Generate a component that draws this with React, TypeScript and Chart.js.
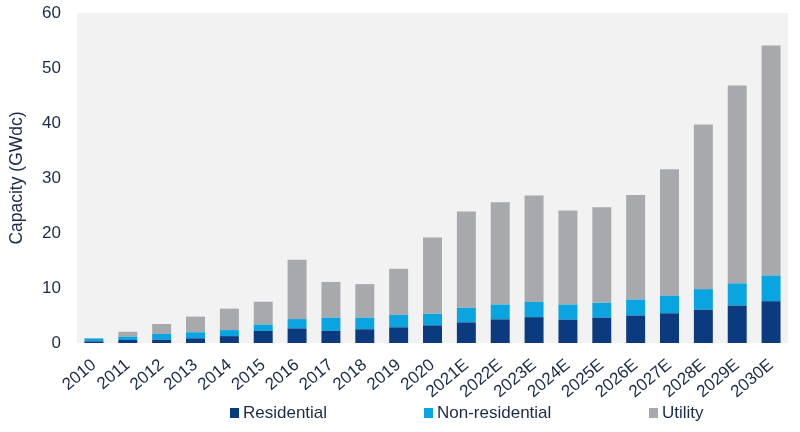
import React, { useEffect, useRef } from "react";
import { Chart, registerables } from "chart.js";

Chart.register(...registerables);

const categories = [
  "2010", "2011", "2012", "2013", "2014", "2015", "2016", "2017", "2018", "2019", "2020",
  "2021E", "2022E", "2023E", "2024E", "2025E", "2026E", "2027E", "2028E", "2029E", "2030E",
];
const residential = [0.3, 0.55, 0.6, 0.85, 1.25, 2.2, 2.65, 2.2, 2.5, 2.85, 3.2, 3.75, 4.3, 4.7, 4.25, 4.6, 5.0, 5.4, 6.05, 6.8, 7.6];
const nonResidential = [0.5, 0.6, 1.05, 1.1, 1.1, 1.15, 1.7, 2.4, 2.1, 2.25, 2.1, 2.65, 2.7, 2.75, 2.75, 2.7, 2.9, 3.2, 3.75, 4.05, 4.65];
const utility = [0.1, 0.9, 1.8, 2.85, 3.9, 4.15, 10.8, 6.5, 6.1, 8.4, 13.9, 17.5, 18.6, 19.35, 17.1, 17.4, 19.0, 23.0, 29.95, 35.95, 41.85];
const yTicks = [0, 10, 20, 30, 40, 50, 60];
const seriesNames = ["Residential", "Non-residential", "Utility"];
const seriesColors = ["#0c3a7e", "#0aa4e0", "#a7a9ac"];
const axisTitle = "Capacity (GWdc)";

const TEXT = "#1c2a4a";
const FONT = "'Liberation Sans', Arial, sans-serif";

const plotBg = {
  id: "plotBg",
  beforeDraw(chart: any) {
    const { ctx, chartArea: a } = chart;
    ctx.save();
    ctx.fillStyle = "#f2f2f2";
    ctx.fillRect(a.left, a.top, a.right - a.left, a.bottom - a.top);
    ctx.restore();
  },
};

const legendLeft = [230, 424, 649];

export default function App() {
  const ref = useRef<HTMLCanvasElement>(null);

  useEffect(() => {
    if (!ref.current) return;
    Chart.defaults.font.family = FONT;
    const values = [residential, nonResidential, utility];
    const chart = new Chart(ref.current, {
      type: "bar",
      data: {
        labels: categories,
        datasets: seriesNames.map((name, i) => ({
          label: name,
          data: values[i],
          backgroundColor: seriesColors[i],
          borderWidth: 0,
          categoryPercentage: 1,
          barPercentage: 0.56,
        })),
      },
      options: {
        animation: false,
        responsive: false,
        devicePixelRatio: 1,
        layout: { padding: { top: 13, right: 12, left: 0, bottom: 0 } },
        plugins: {
          legend: { display: false },
          tooltip: { enabled: false },
        },
        scales: {
          x: {
            stacked: true,
            grid: { display: false },
            border: { display: false },
            ticks: {
              color: TEXT,
              font: { size: 17, family: FONT },
              minRotation: 40,
              maxRotation: 40,
              autoSkip: false,
              padding: 4,
            },
            afterFit: (scale: any) => {
              scale.height = 89;
              scale.paddingLeft = 0;
              scale.paddingRight = 0;
            },
          },
          y: {
            stacked: true,
            min: 0,
            max: 60,
            grid: { display: false },
            border: { display: false },
            afterBuildTicks: (scale: any) => {
              scale.ticks = yTicks.map((v) => ({ value: v }));
            },
            ticks: {
              color: TEXT,
              font: { size: 17, family: FONT },
              padding: 8,
            },
            title: {
              display: true,
              text: axisTitle,
              color: TEXT,
              font: { size: 17.5, family: FONT },
              padding: { top: 7, bottom: 0 },
            },
            afterFit: (scale: any) => {
              scale.width = 77;
              scale.paddingTop = 0;
              scale.paddingBottom = 0;
            },
          },
        },
      },
      plugins: [plotBg],
    });
    return () => chart.destroy();
  }, []);

  return (
    <div style={{ position: "absolute", left: 0, top: 0, width: 800, height: 432, background: "#fff" }}>
      <canvas ref={ref} width={800} height={432} style={{ width: 800, height: 432, display: "block" }} />
      {seriesNames.map((name, i) => (
        <div
          key={name}
          style={{
            position: "absolute",
            left: legendLeft[i],
            top: 402,
            height: 22,
            display: "flex",
            alignItems: "center",
            fontFamily: FONT,
            fontSize: 17,
            color: TEXT,
            whiteSpace: "nowrap",
          }}
        >
          <span style={{ display: "inline-block", width: 9, height: 10, background: seriesColors[i], marginRight: 4 }} />
          <span>{name}</span>
        </div>
      ))}
    </div>
  );
}
